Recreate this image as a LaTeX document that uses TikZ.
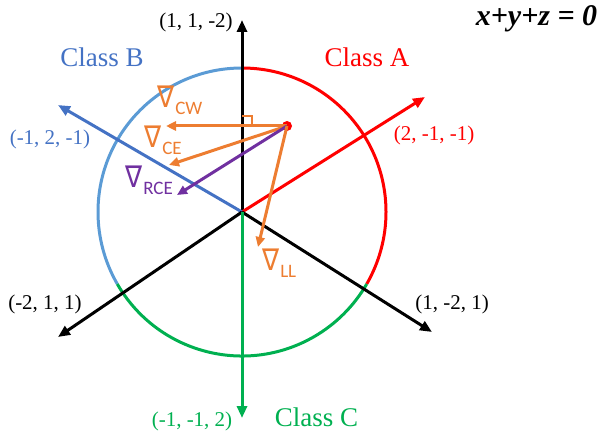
\documentclass[tikz,border=0pt]{standalone}
\usepackage{fontspec}
\setmainfont{Liberation Serif}
\setsansfont{Carlito}
\newfontfamily\djv{DejaVu Sans}
\usetikzlibrary{arrows.meta}
\definecolor{cred}{HTML}{FF0000}
\definecolor{cbluearc}{HTML}{5B9BD5}
\definecolor{cblueaxis}{HTML}{4472C4}
\definecolor{cgreen}{HTML}{00B050}
\definecolor{corange}{HTML}{ED7D31}
\definecolor{cpurple}{HTML}{7030A0}
\newcommand\gradlab[1]{{\fontsize{30}{30}\selectfont\djv\scalebox{0.85}[1]{∇}}\kern1pt\raisebox{-7pt}{\fontsize{19}{19}\selectfont\sffamily #1}}
\begin{document}
\begin{tikzpicture}[x=1pt,y=1pt,
  axis/.style={line width=3pt,-{Triangle[length=12pt,width=10pt]}},
  ring/.style={line width=3pt},
  grad/.style={line width=3pt,-{Triangle[length=10pt,width=9pt]}},
  coordlab/.style={inner sep=0pt,font=\fontsize{21}{21}\selectfont},
  classlab/.style={inner sep=0pt,font=\fontsize{27}{27}\selectfont},
  gl/.style={inner sep=0pt,anchor=base west}]
\useasboundingbox (0,0) rectangle (604,437);
\coordinate (O) at (242,225);
% circle arcs
\draw[ring,cred] (O) ++(90:144) arc[start angle=90,end angle=-30,radius=144];
\draw[ring,cbluearc] (O) ++(90:144) arc[start angle=90,end angle=210,radius=144];
\draw[ring,cgreen] (O) ++(210:144) arc[start angle=210,end angle=330,radius=144];
% axes
\coordinate (tUp) at (242,417);
\coordinate (tA) at (425,340);
\coordinate (tB) at (58,332);
\coordinate (tL) at (58,100);
\coordinate (tR) at (432,105);
\coordinate (tC) at (242,19);
\draw[axis,black] (O) -- (tUp);
\draw[axis,cred] (O) -- (tA);
\draw[axis,cblueaxis] (O) -- (tB);
\draw[axis,black] (O) -- (tL);
\draw[axis,black] (O) -- (tR);
\draw[axis,cgreen] (O) -- (tC);
% gradient arrows
\node[circle,fill=cred,minimum size=10pt,inner sep=0pt] (dot) at (287,311) {};
\coordinate (eCW) at (166,311);
\coordinate (eCE) at (169,272);
\coordinate (eRCE) at (177,242);
\coordinate (eLL) at (258,190);
\coordinate (ra1) at (242,321);
\coordinate (ra2) at (252,321);
\coordinate (ra3) at (252,311);
\draw[corange,line width=2pt] (ra1) -- (ra2) -- (ra3);
\draw[grad,corange] (dot.center) -- (eCW);
\draw[grad,corange] (dot.center) -- (eCE);
\draw[grad,cpurple] (dot.center) -- (eRCE);
\draw[grad,corange] (dot.center) -- (eLL);
% gradient labels
\node[gl,text=corange] (lCW) at (157,329) {\gradlab{CW}};
\node[gl,text=corange] (lCE) at (144,289) {\gradlab{CE}};
\node[gl,text=cpurple] (lRCE) at (125,250) {\gradlab{RCE}};
\node[gl,text=corange] (lLL) at (262,167) {\gradlab{LL}};
% axis labels
\node[coordlab] (nUp) at (196,414.5) {(1, 1, -2)};
\node[coordlab,text=cred] (nA) at (434,301.5) {(2, -1, -1)};
\node[coordlab,text=cblueaxis] (nB) at (50,298) {(-1, 2, -1)};
\node[coordlab] (nL) at (45,133) {(-2, 1, 1)};
\node[coordlab] (nR) at (452,133) {(1, -2, 1)};
\node[coordlab,text=cgreen] (nC) at (192,16) {(-1, -1, 2)};
% class labels
\node[classlab,text=cblueaxis] (cB) at (102,380) {Class B};
\node[classlab,text=cred] (cA) at (367,380) {Class A};
\node[classlab,text=cgreen] (cC) at (316.5,20) {Class C};
\node[inner sep=0pt,font=\fontsize{30}{30}\selectfont\bfseries\itshape] (eq) at (536.5,418.5) {x+y+z = 0};
\end{tikzpicture}
\end{document}
